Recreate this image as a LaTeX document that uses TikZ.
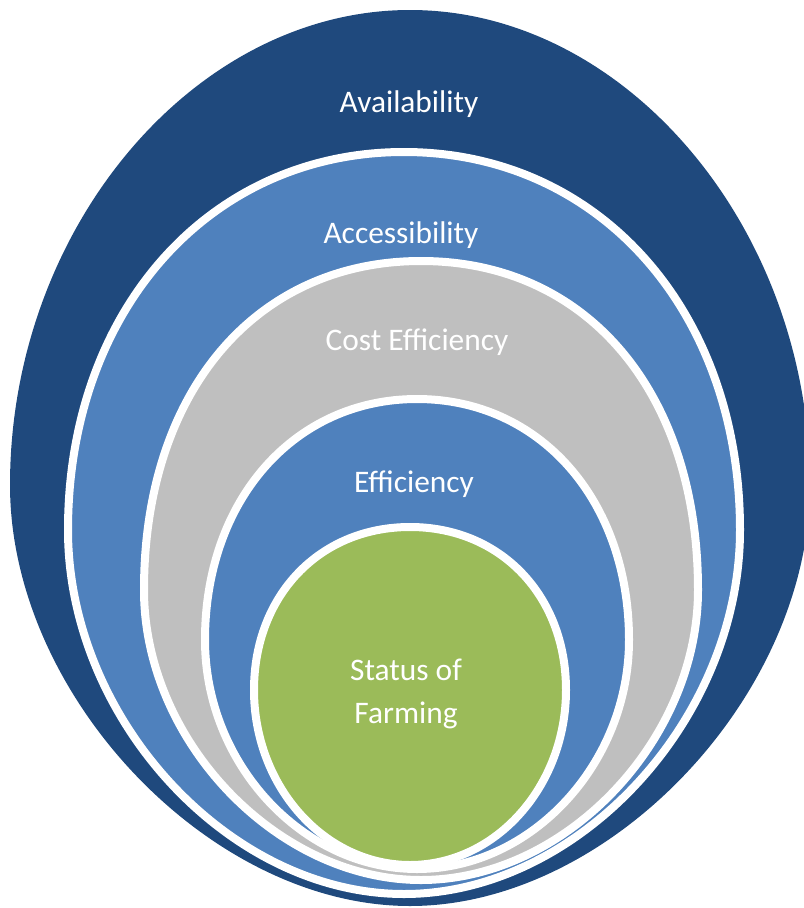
\documentclass[tikz,border=0pt]{standalone}
\usepackage{fontspec}
\setmainfont{Carlito}

\definecolor{ringdark}{HTML}{1F497D}
\definecolor{ringblue}{HTML}{4F81BD}
\definecolor{ringgray}{HTML}{BFBFBF}
\definecolor{coregreen}{HTML}{9BBB59}

% Egg-shaped closed curve: style, centre x, top y, widest y, bottom y,
% half width, control factor of the upper half, control factor of the lower half
\newcommand\drawegg[8]{%
  \pgfmathsetmacro\eR{#2+#6}%
  \pgfmathsetmacro\eL{#2-#6}%
  \pgfmathsetmacro\eTx{#7*#6}%
  \pgfmathsetmacro\eTy{#4-#7*(#4-#3)}%
  \pgfmathsetmacro\eBx{#8*#6}%
  \pgfmathsetmacro\eBy{#4+#8*(#5-#4)}%
  \path[#1] (#2,#3) .. controls ({#2+\eTx},#3) and (\eR,\eTy) .. (\eR,#4)
     .. controls (\eR,\eBy) and ({#2+\eBx},#5) .. (#2,#5)
     .. controls ({#2-\eBx},#5) and (\eL,\eBy) .. (\eL,#4)
     .. controls (\eL,\eTy) and ({#2-\eTx},#3) .. (#2,#3) -- cycle;
}

\tikzset{
  outerlayer/.style={fill=ringdark},
  layer/.style={fill=#1, draw=white, line width=8bp},
  layerlabel/.style={text=white, inner sep=0pt, font=\fontsize{31.5}{43}\selectfont, align=center}
}

\begin{document}
\begin{tikzpicture}[x=1bp, y=-1bp]
  \useasboundingbox (0,0) rectangle (804,908);
  \clip (0,0) rectangle (804,908);

  % nested layers, outermost first
  \drawegg{outerlayer}{410}{10}{485}{906}{400}{0.54}{0.50}
  \drawegg{layer=ringblue}{404}{152}{530}{894}{336}{0.58}{0.52}
  \drawegg{layer=ringgray}{421}{261}{590}{880}{277}{0.60}{0.52}
  \drawegg{layer=ringblue}{417}{399}{640}{869}{212}{0.58}{0.54}
  \drawegg{layer=coregreen}{410}{527}{690}{865}{156}{0.58}{0.55}

  % labels
  \node[layerlabel] (availability)  at (409,104) {Availability};
  \node[layerlabel] (accessibility) at (401,235) {Accessibility};
  \node[layerlabel] (costeff)       at (417,342) {Cost Efficiency};
  \node[layerlabel] (efficiency)    at (414,484) {Efficiency};
  \node[layerlabel] (status)        at (406,694) {Status of\\Farming};
\end{tikzpicture}
\end{document}
